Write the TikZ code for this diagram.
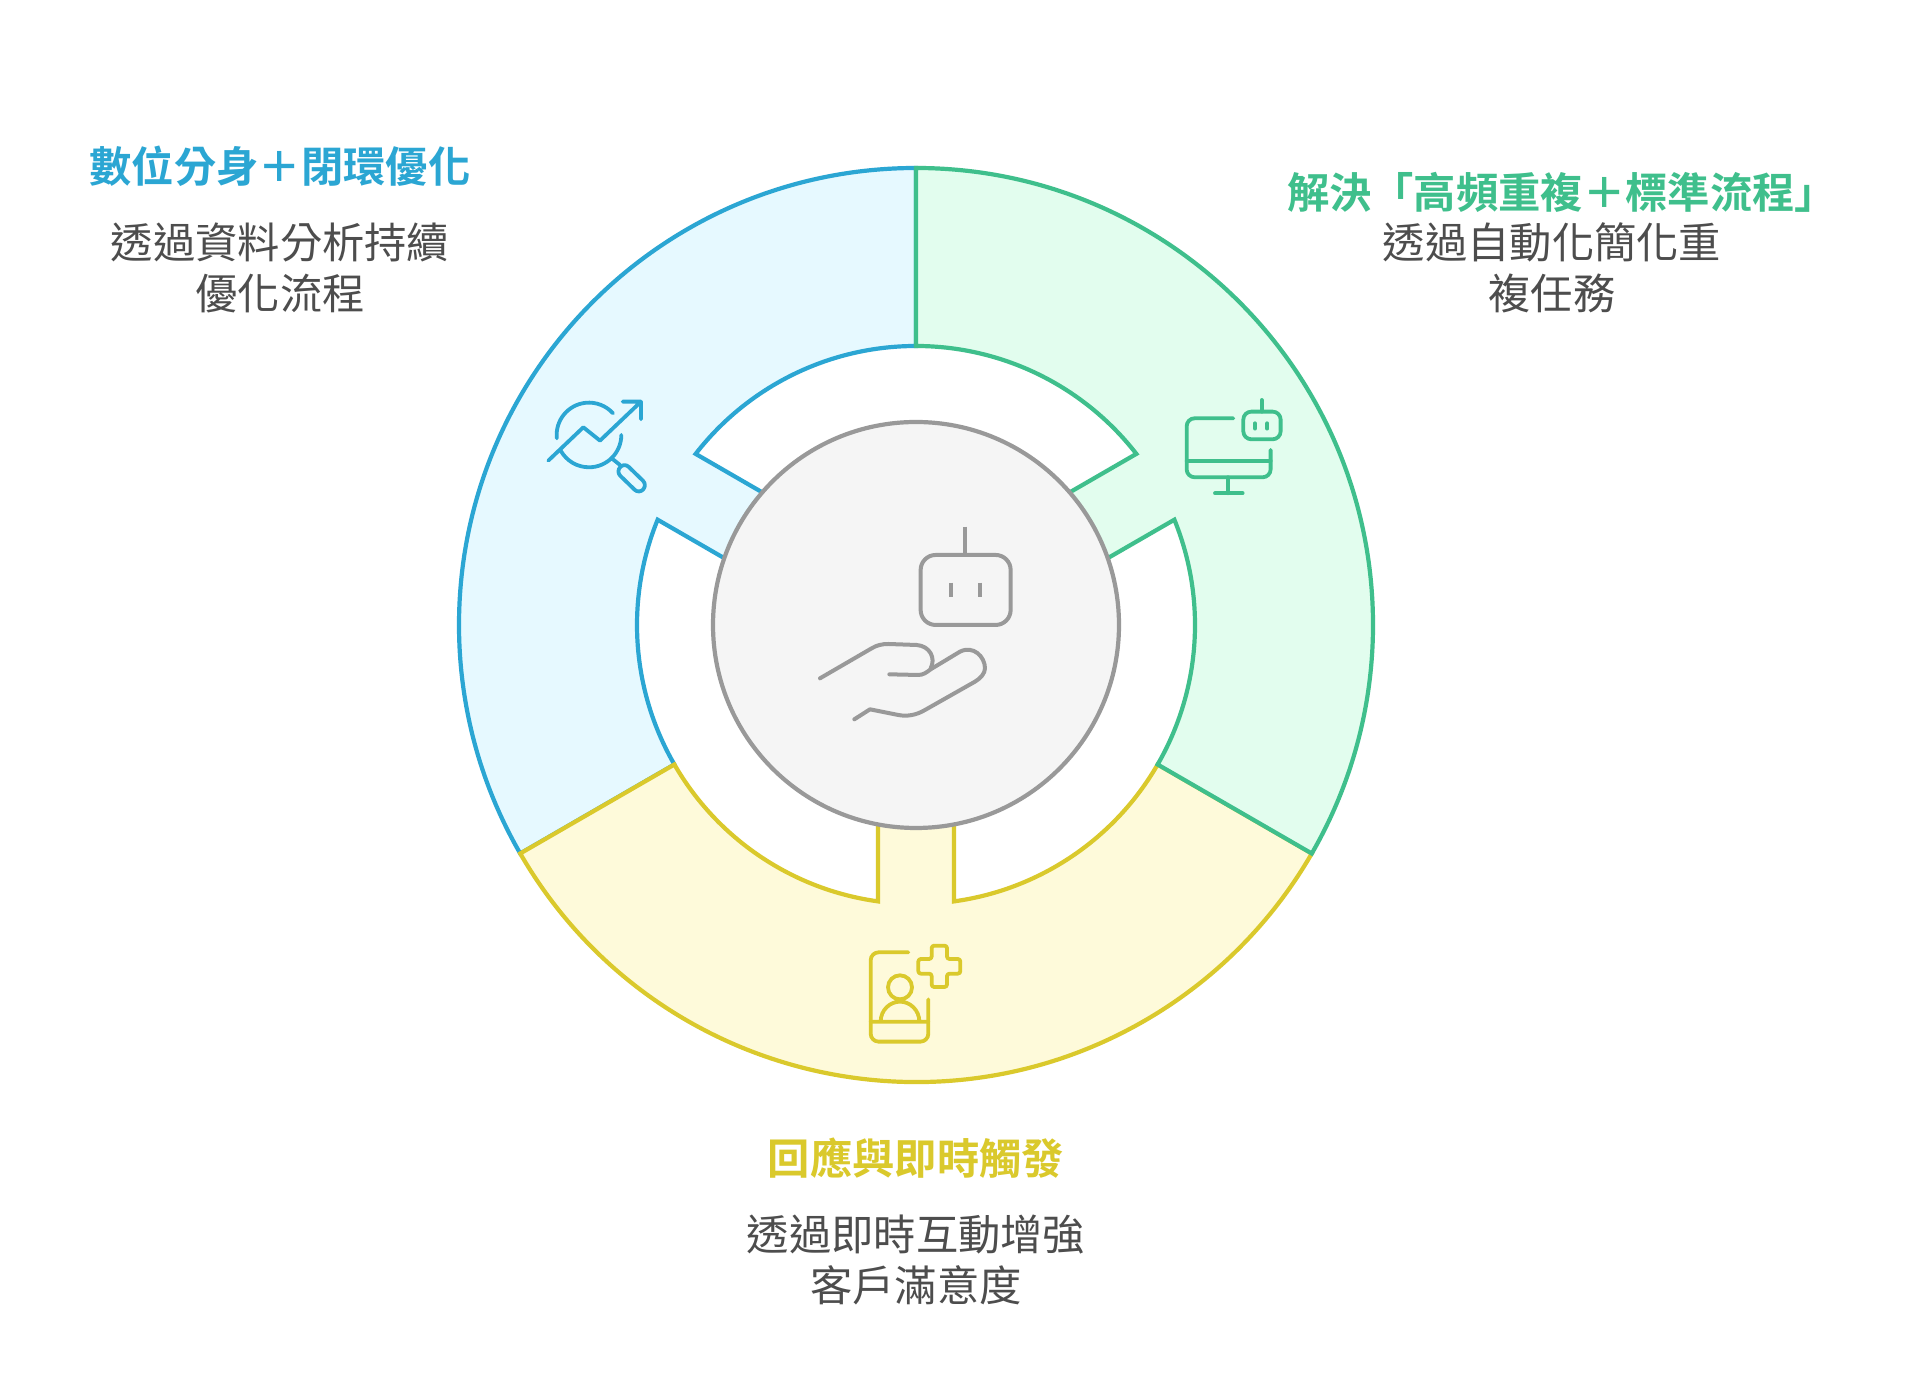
\documentclass[tikz,border=0pt]{standalone}
\usepackage{fontspec}
\newfontfamily\cjkreg{Noto Sans CJK TC}
\newfontfamily\cjkbold{Noto Sans CJK TC Bold}
\definecolor{bluel}{HTML}{2BA6D3}
\definecolor{bluef}{HTML}{E6F9FF}
\definecolor{greenl}{HTML}{3FBF8C}
\definecolor{greenf}{HTML}{E2FDEE}
\definecolor{yell}{HTML}{DAC92C}
\definecolor{yelf}{HTML}{FEFADA}
\definecolor{grayl}{HTML}{999999}
\definecolor{grayf}{HTML}{F5F5F5}
\definecolor{bodyc}{HTML}{4D4D4D}
\tikzset{
  sector/.style={line width=4.2pt,line join=miter,miter limit=10},
  ico/.style={line width=3.8pt,line cap=round,line join=round},
  titletext/.style={font=\cjkbold\fontsize{42.3}{52}\selectfont,inner sep=0pt,align=center},
  bodytext/.style={font=\cjkreg\fontsize{42.3}{51}\selectfont,text=bodyc,inner sep=0pt,align=center}
}
\begin{document}
\begin{tikzpicture}[x=1pt,y=1pt]
\useasboundingbox (0,0) rectangle (1920,1373);
\fill[white] (0,0) rectangle (1920,1373);
% ring sectors
\begin{scope}[shift={(916,748)}]
  \draw[sector,draw=bluel,fill=bluef]
    (90:457) arc[start angle=90,end angle=210,radius=457]
    -- (210:279) arc[start angle=210,end angle=157.83,radius=279]
    -- (160.79:203) -- (139.21:203)
    -- (142.17:279) arc[start angle=142.17,end angle=90,radius=279] -- cycle;
  \draw[sector,draw=yell,fill=yelf]
    (210:457) arc[start angle=210,end angle=330,radius=457]
    -- (330:279) arc[start angle=330,end angle=277.83,radius=279]
    -- (280.79:203) -- (259.21:203)
    -- (262.17:279) arc[start angle=262.17,end angle=210,radius=279] -- cycle;
  \draw[sector,draw=greenl,fill=greenf]
    (90:457) arc[start angle=90,end angle=-30,radius=457]
    -- (-30:279) arc[start angle=-30,end angle=22.17,radius=279]
    -- (19.21:203) -- (40.79:203)
    -- (37.83:279) arc[start angle=37.83,end angle=90,radius=279] -- cycle;
  \node[circle,draw=grayl,fill=grayf,line width=4.2pt,minimum size=406pt,inner sep=0pt] (hub) at (0,0) {};
\end{scope}
% blue icon
\begin{scope}[shift={(440,1233)},x=0.3333pt,y=-0.3333pt]
  \draw[ico,draw=bluel]
    (447,885) ++(174:97) arc[start angle=174,end angle=318,radius=97]
    (447,885) ++(0:97) arc[start angle=0,end angle=151,radius=97]
    (325,962) -- (430,862) -- (480,902) -- (603,785)
    (548,785) -- (603,785) -- (603,838)
    (515,955) -- (540,975);
  \draw[ico,draw=bluel,rounded corners=6pt]
    (553,968) -- (622,1035) -- (597,1062) -- (528,995) -- cycle;
\end{scope}
% green icon
\begin{scope}[shift={(960,1233)},x=0.3333pt,y=-0.3333pt]
  \draw[ico,draw=greenl,rounded corners=8pt]
    (820,835) -- (680,835) -- (680,1012) -- (932,1012) -- (932,930);
  \draw[ico,draw=greenl]
    (680,962) -- (932,962)
    (805,1012) -- (805,1060)
    (765,1060) -- (848,1060)
    (905,780) -- (905,815)
    (885,850) -- (885,866)
    (922,850) -- (922,866);
  \draw[ico,draw=greenl,rounded corners=8pt]
    (850,815) rectangle (962,898);
\end{scope}
% yellow icon
\begin{scope}[shift={(850,443)},x=0.3333pt,y=-0.3333pt]
  \draw[ico,draw=yell,rounded corners=8pt]
    (175,67) -- (62,67) -- (62,335) -- (235,335) -- (235,208);
  \draw[ico,draw=yell]
    (62,275) -- (235,275)
    (150,172) circle[radius=36]
    (92,275) .. controls (92,240) and (120,215) .. (150,215) .. controls (180,215) and (208,240) .. (208,275);
  \draw[ico,draw=yell,rounded corners=2.5pt]
    (245,47) -- (291,47) -- (291,87) -- (331,87) -- (331,131) -- (291,131) -- (291,171)
    -- (245,171) -- (245,131) -- (205,131) -- (205,87) -- (245,87) -- cycle;
\end{scope}
% central icon
\begin{scope}[shift={(700,973)},x=0.3333pt,y=-0.3333pt]
  \draw[ico,draw=grayl,line width=4pt,rounded corners=15pt]
    (662,465) rectangle (932,675);
  \draw[ico,draw=grayl,line width=4pt,line cap=butt]
    (796,380) -- (796,465)
    (752,548) -- (752,592)
    (840,548) -- (840,592);
\end{scope}
\begin{scope}[shift={(810,743)},x=0.3333pt,y=-0.3333pt]
  \draw[ico,draw=grayl,line width=4pt]
    (30,145) -- (185,55) .. controls (200,46) and (215,42) .. (235,42)
    -- (320,45) .. controls (360,48) and (378,85) .. (362,115);
  \draw[ico,draw=grayl,line width=4pt]
    (238,133) -- (325,135) .. controls (340,135) and (350,127) .. (362,118)
    -- (450,65) .. controls (490,45) and (525,80) .. (525,115)
    .. controls (525,130) and (512,145) .. (495,155)
    -- (345,240) .. controls (318,256) and (290,260) .. (265,255)
    -- (180,238) -- (133,268);
\end{scope}
% texts
\node[titletext,text=bluel] (t1) at (280,1207) {數位分身＋閉環優化};
\node[bodytext] (b1) at (280,1105) {透過資料分析持續\\優化流程};
\node[titletext,text=greenl] (t2) at (1562,1181) {解決「高頻重複＋標準流程」};
\node[bodytext] (b2) at (1552,1105) {透過自動化簡化重\\複任務};
\node[titletext,text=yell] (t3) at (916,215) {回應與即時觸發};
\node[bodytext] (b3) at (916,113.5) {透過即時互動增強\\客戶滿意度};
\end{tikzpicture}
\end{document}
